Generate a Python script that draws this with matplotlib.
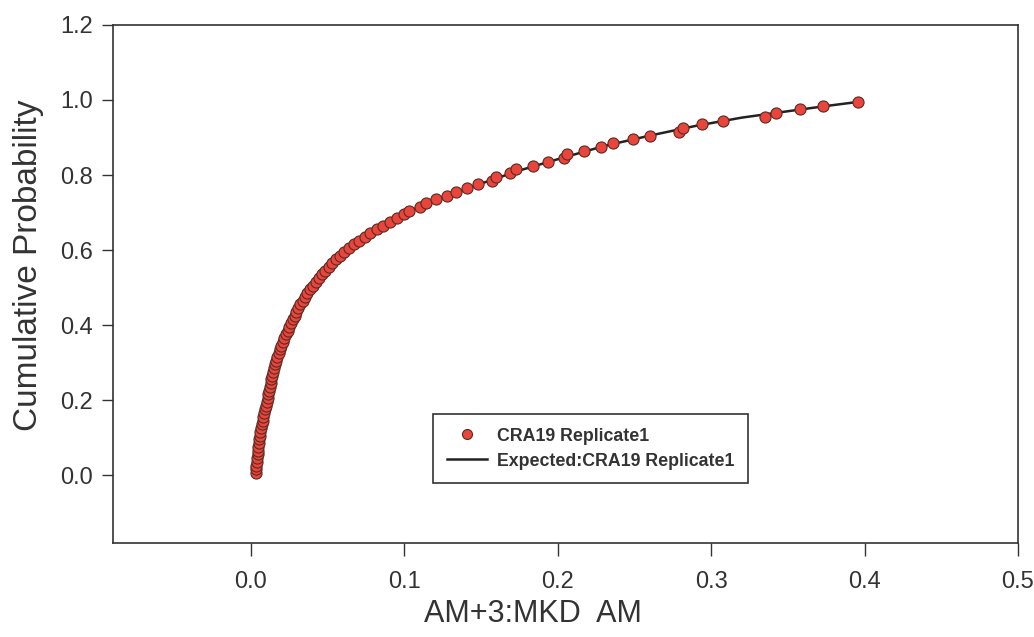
import matplotlib
matplotlib.use("Agg")
import matplotlib.pyplot as plt
import numpy as np

plt.rcParams['font.family'] = ['Liberation Sans', 'DejaVu Sans']

# Observed values (x) and their cumulative probabilities (y)
obs_x = [0.0032, 0.0035, 0.0037, 0.0040, 0.0042, 0.0045, 0.0047, 0.0050, 0.0053, 0.0056,
         0.0060, 0.0063, 0.0067, 0.0072, 0.0077, 0.0082, 0.0087, 0.0092, 0.0097, 0.0103,
         0.0109, 0.0114, 0.0119, 0.0124, 0.0129, 0.0134, 0.0139, 0.0145, 0.0151, 0.0158,
         0.0165, 0.0173, 0.0181, 0.0190, 0.0199, 0.0209, 0.0219, 0.0229, 0.0240, 0.0251,
         0.0262, 0.0273, 0.0285, 0.0297, 0.0310, 0.0323, 0.0337, 0.0352, 0.0368, 0.0385,
         0.0403, 0.0422, 0.0442, 0.0463, 0.0485, 0.0508, 0.0532, 0.0557, 0.0583, 0.0610,
         0.0640, 0.0672, 0.0706, 0.0742, 0.0780, 0.0820, 0.0862, 0.0905, 0.0950, 0.1000,
         0.1030, 0.1100, 0.1140, 0.1210, 0.1280, 0.1340, 0.1410, 0.1480, 0.1570, 0.1600,
         0.1690, 0.1730, 0.1840, 0.1940, 0.2040, 0.2060, 0.2170, 0.2280, 0.2360, 0.2490,
         0.2600, 0.2790, 0.2820, 0.2940, 0.3080, 0.3350, 0.3420, 0.3580, 0.3730, 0.3960]
obs_y = [0.005, 0.015, 0.025, 0.035, 0.045, 0.055, 0.065, 0.075, 0.085, 0.095,
         0.105, 0.115, 0.125, 0.135, 0.145, 0.155, 0.165, 0.175, 0.185, 0.195,
         0.205, 0.215, 0.225, 0.235, 0.245, 0.255, 0.265, 0.275, 0.285, 0.295,
         0.305, 0.315, 0.325, 0.335, 0.345, 0.355, 0.365, 0.375, 0.385, 0.395,
         0.405, 0.415, 0.425, 0.435, 0.445, 0.455, 0.465, 0.475, 0.485, 0.495,
         0.505, 0.515, 0.525, 0.535, 0.545, 0.555, 0.565, 0.575, 0.585, 0.595,
         0.605, 0.615, 0.625, 0.635, 0.645, 0.655, 0.665, 0.675, 0.685, 0.695,
         0.705, 0.715, 0.725, 0.735, 0.745, 0.755, 0.765, 0.775, 0.785, 0.795,
         0.805, 0.815, 0.825, 0.835, 0.845, 0.855, 0.865, 0.875, 0.885, 0.895,
         0.905, 0.915, 0.925, 0.935, 0.945, 0.955, 0.965, 0.975, 0.985, 0.995]

# Expected (fitted) curve nodes
exp_x = [0.0030, 0.0045, 0.0065, 0.0090, 0.0120, 0.0160, 0.0210, 0.0270, 0.0340, 0.0420,
         0.0510, 0.0620, 0.0750, 0.0900, 0.1050, 0.1250, 0.1500, 0.1750, 0.2000, 0.2300,
         0.2600, 0.2900, 0.3200, 0.3500, 0.3750, 0.3960]
exp_y = [0.002, 0.055, 0.120, 0.185, 0.245, 0.300, 0.360, 0.415, 0.468, 0.513,
         0.555, 0.600, 0.642, 0.680, 0.707, 0.740, 0.777, 0.812, 0.842, 0.877,
         0.905, 0.931, 0.953, 0.970, 0.984, 0.995]

tick_x = [0.0, 0.1, 0.2, 0.3, 0.4, 0.5]
tick_y = [0.0, 0.2, 0.4, 0.6, 0.8, 1.0, 1.2]

fig = plt.figure(figsize=(10.34, 6.37), dpi=100)
ax = fig.add_axes([0.109, 0.1476, 0.8755, 0.8132])

ax.plot(exp_x, exp_y, color='#222222', lw=1.8, zorder=2, label='Expected:CRA19 Replicate1')
ax.plot(obs_x, obs_y, 'o', color='#e8453c', mec='#5a2a22', mew=0.8, ms=8, zorder=3,
        label='CRA19 Replicate1')

ax.set_xlim(-0.09, 0.5)
ax.set_ylim(-0.181, 1.2)
ax.set_xticks(tick_x)
ax.set_xticklabels([f"{v:.1f}" for v in tick_x])
ax.set_yticks(tick_y)
ax.set_yticklabels([f"{v:.1f}" for v in tick_y])
ax.tick_params(direction='out', length=8, width=1, labelsize=17, color='#333333',
               labelcolor='#333333')
ax.tick_params(axis='y', pad=6)
ax.tick_params(axis='x', length=9, pad=11)
for s in ax.spines.values():
    s.set_color('#333333')
    s.set_linewidth(1.2)

ax.set_xlabel('AM+3:MKD  AM', fontsize=22, color='#333333')
ax.set_ylabel('Cumulative Probability', fontsize=24, color='#333333')
ax.xaxis.set_label_coords(0.464, -0.108)
ax.yaxis.set_label_coords(-0.076, 0.537)

handles, labels = ax.get_legend_handles_labels()
leg = ax.legend(handles[::-1], labels[::-1], loc='lower left', bbox_to_anchor=(0.354, 0.116),
                fancybox=False, edgecolor='#333333', framealpha=1,
                prop={'weight': 'bold', 'size': 12.8}, handlelength=2.3, handletextpad=0.55,
                borderpad=0.75, borderaxespad=0, labelspacing=0.45, markerscale=0.9)
leg.get_frame().set_linewidth(1.2)
for t in leg.get_texts():
    t.set_color('#333333')

fig.savefig('out.png', dpi=100)
